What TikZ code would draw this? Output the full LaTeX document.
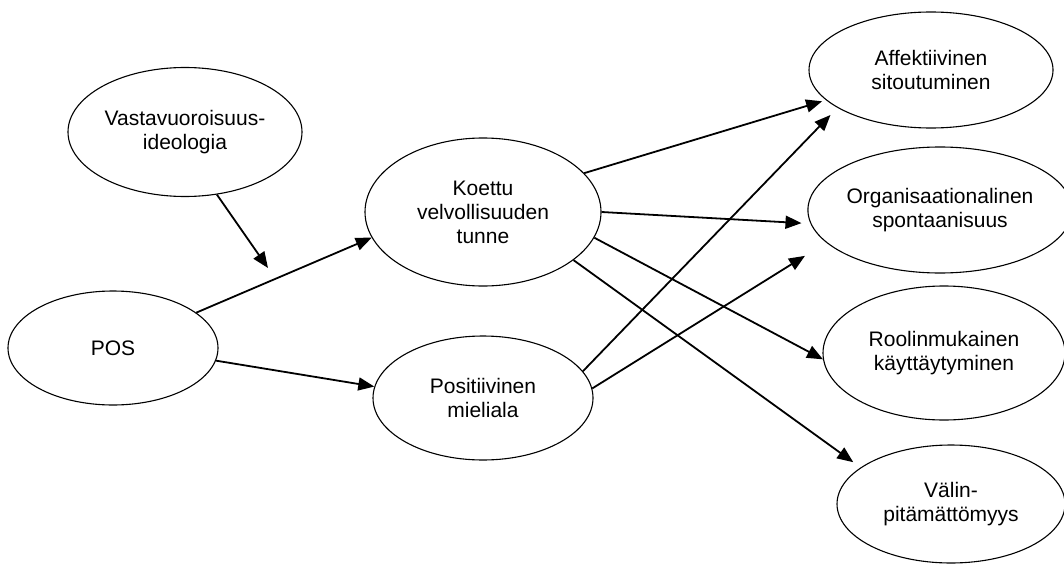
\documentclass[tikz,border=0pt]{standalone}
\usepackage{fontspec}
\setmainfont{Liberation Sans}
\usetikzlibrary{shapes.geometric,arrows.meta}

\begin{document}
\begin{tikzpicture}[x=1pt, y=-1pt,
    factor/.style={draw, ellipse, line width=1.1pt, inner sep=0pt, align=center,
      font=\fontsize{21}{24}\selectfont},
    link/.style={line width=1.8pt, -{Triangle[length=16pt, width=13pt]}}]
  \useasboundingbox (0,0) rectangle (1064,567);
  % constructs
  \node[factor, minimum width=234, minimum height=129] (vast) at (185,132) {Vastavuoroisuus-\\ideologia};
  \node[factor, minimum width=210, minimum height=114] (pos) at (113,348) {POS};
  \node[factor, minimum width=236, minimum height=148] (koettu) at (483,212) {Koettu\\velvollisuuden\\tunne};
  \node[factor, minimum width=220, minimum height=124] (posit) at (483,398) {Positiivinen\\mieliala};
  \node[factor, minimum width=244, minimum height=116] (affekt) at (931,70) {Affektiivinen\\sitoutuminen};
  \node[factor, minimum width=246, minimum height=126] (org) at (940,210) {Organisaationalinen\\spontaanisuus};
  \node[factor, minimum width=242, minimum height=134] (rool) at (944,353) {Roolinmukainen\\käyttäytyminen};
  \node[factor, minimum width=228, minimum height=118] (valin) at (951,504) {Välin-\\pitämättömyys};
  \coordinate (mod) at (268,268);
  % paths
  \draw[link] (vast.-63) -- (mod);
  \draw[link] (pos.23) -- (koettu.193);
  \draw[link] (pos.-7) -- (posit.174);
  \draw[link, shorten >=4pt] (koettu.21) -- (affekt.196);
  \draw[link, shorten >=9pt] (koettu.0) -- (org.186);
  \draw[link] (koettu.-13) -- (rool.183);
  \draw[link, shorten >=9pt] (koettu.-28) -- (valin.158);
  \draw[link, shorten >=10pt] (posit.15) -- (affekt.202);
  \draw[link, shorten >=25pt] (posit.5) -- (org.196);
\end{tikzpicture}
\end{document}
